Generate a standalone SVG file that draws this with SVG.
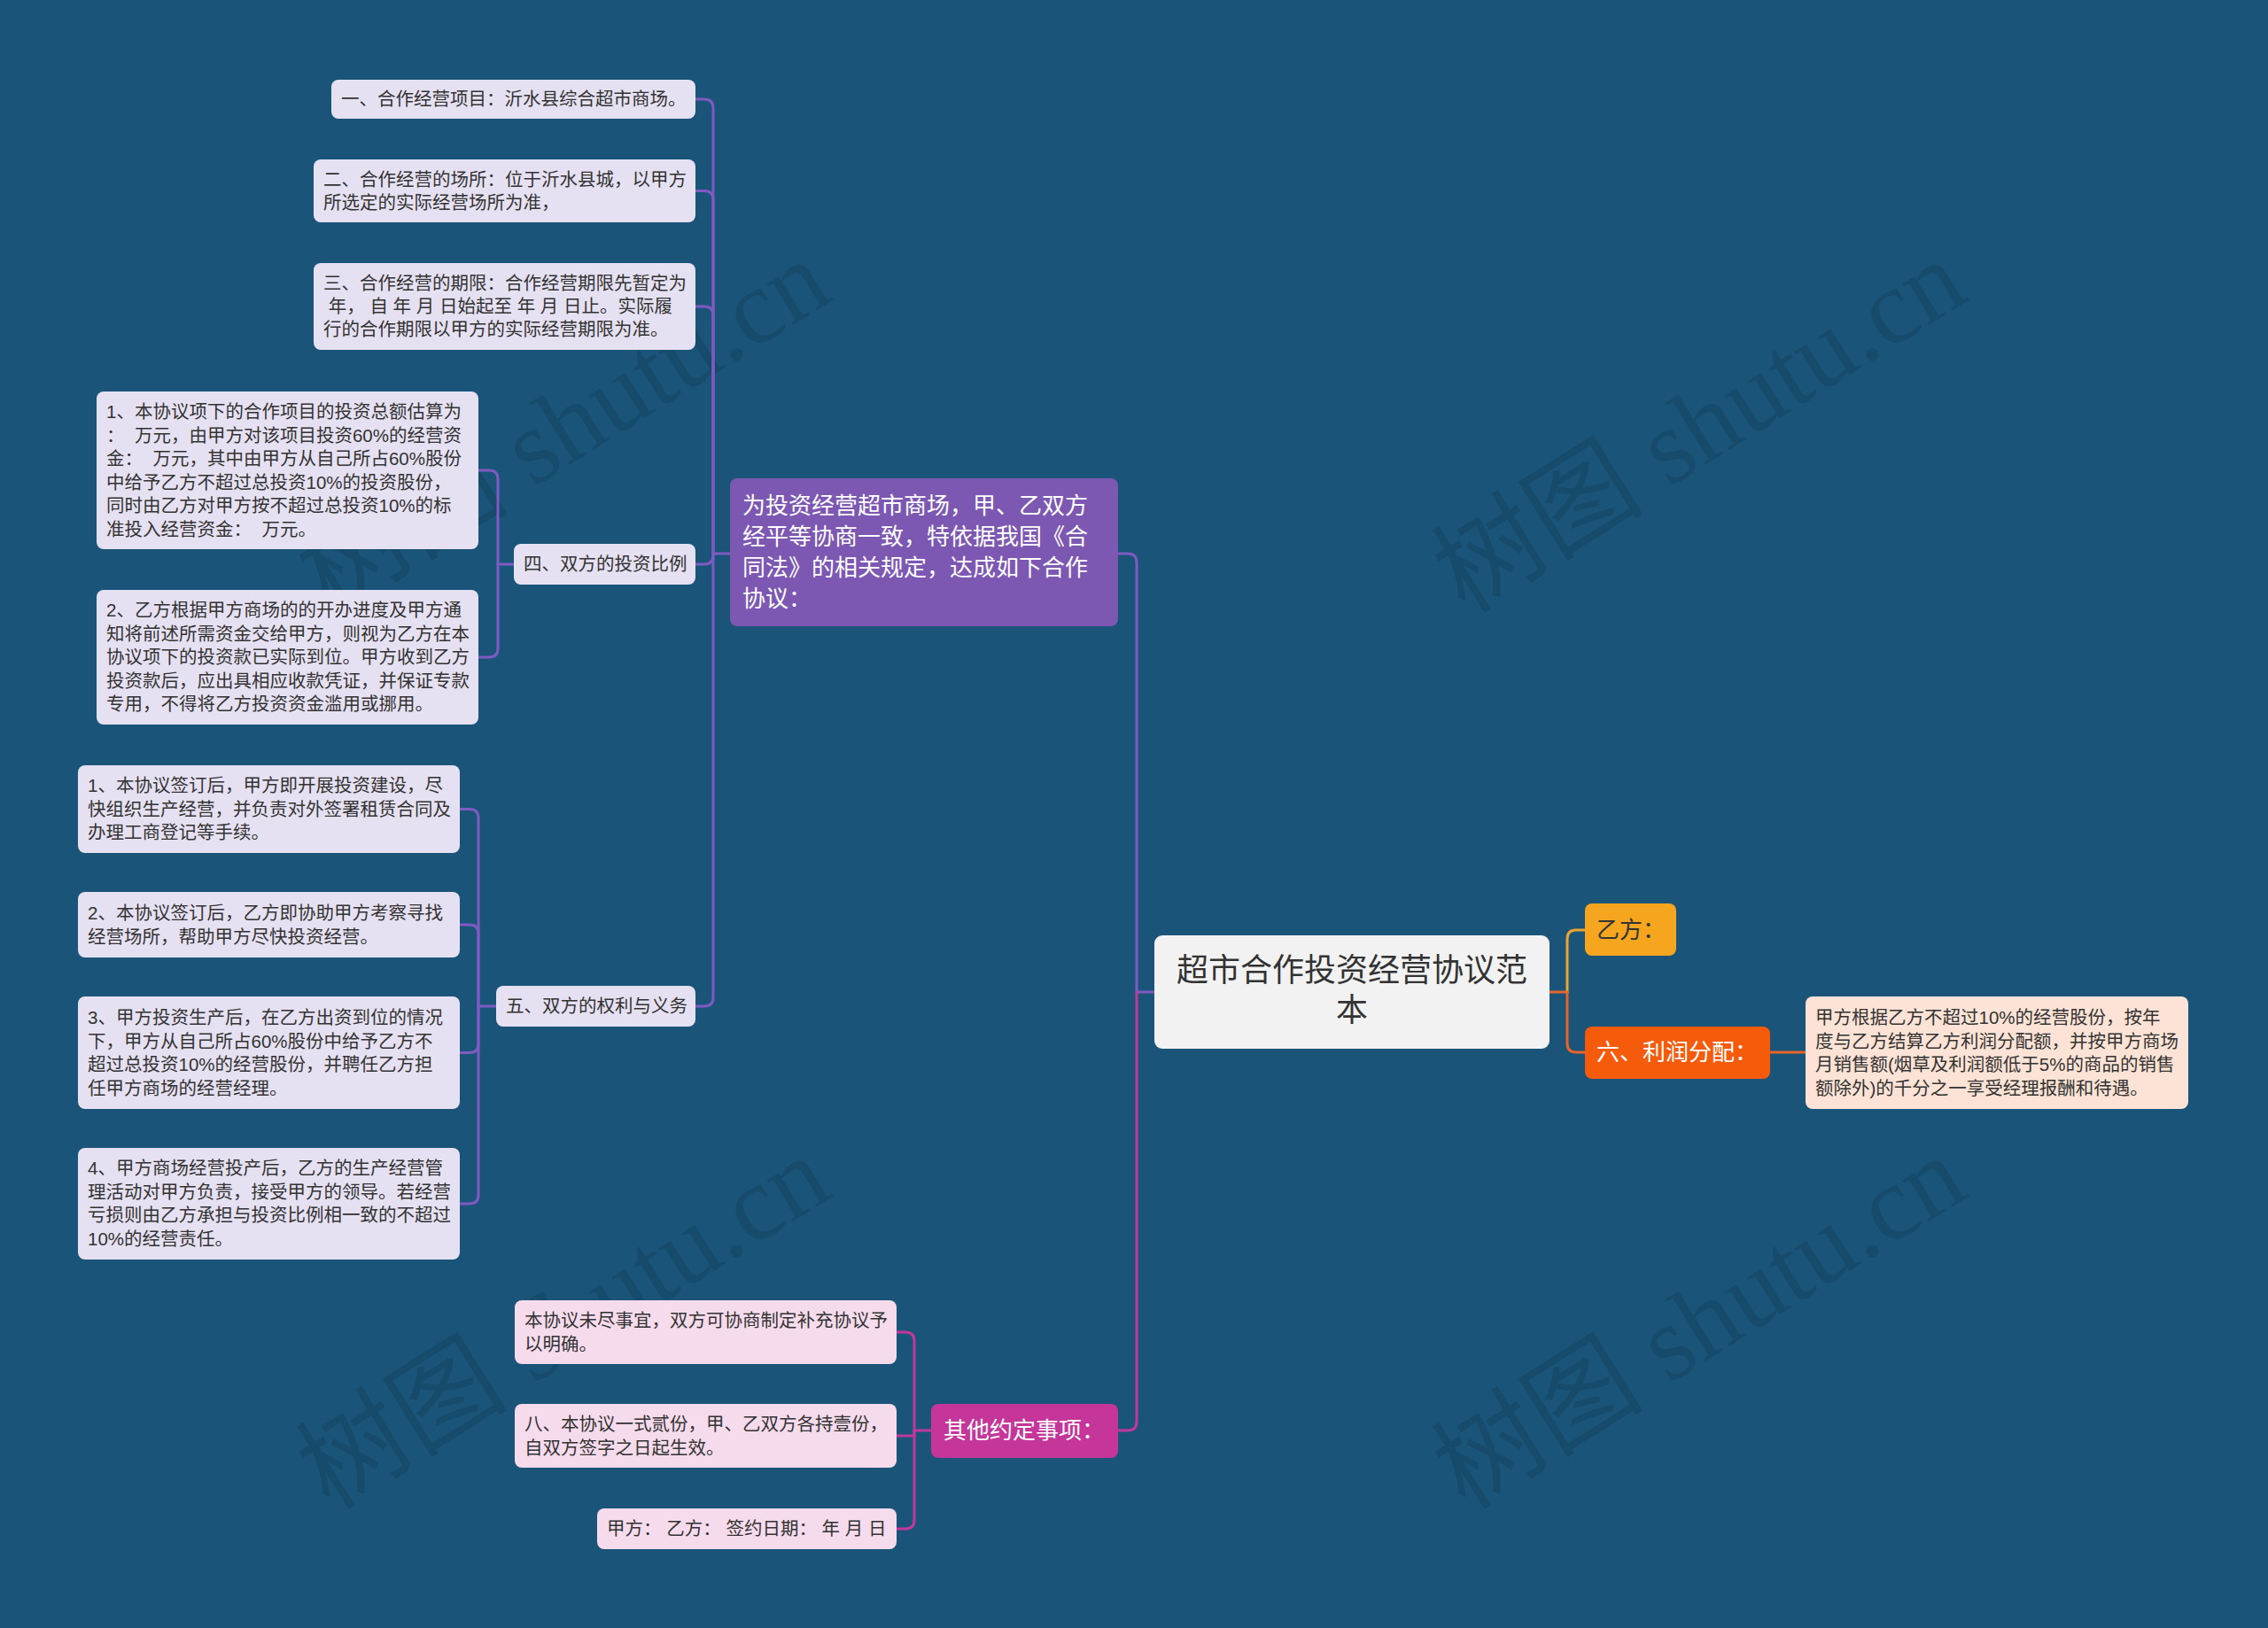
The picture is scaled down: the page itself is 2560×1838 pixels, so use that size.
<svg xmlns="http://www.w3.org/2000/svg" width="2560" height="1838" viewBox="0 0 2560 1838">
<style>
text{font-family:"Liberation Sans","Noto Sans CJK SC",sans-serif;}
.t{font-size:20.5px;fill:#333333;}
.big{font-size:26px;}
.wm{font-family:"Liberation Serif","Noto Sans CJK SC",serif;font-size:120px;fill:#000000;opacity:0.1;}
.lav{fill:#e6e1f2;}
.pink{fill:#f6dbec;}
.c{fill:none;stroke-width:3;stroke-linecap:round;}
.cp{stroke:#7e5ac2;}
.cm{stroke:#c2379a;}
</style>
<rect width="2560" height="1838" fill="#1a5479"/>
<g id="watermarks">
<text class="wm" transform="translate(372,694) rotate(-32)">树图 shutu.cn</text>
<text class="wm" transform="translate(1654,694) rotate(-32)">树图 shutu.cn</text>
<text class="wm" transform="translate(372,1706) rotate(-32)">树图 shutu.cn</text>
<text class="wm" transform="translate(1654,1706) rotate(-32)">树图 shutu.cn</text>
</g>
<g id="connectors">
<path class="c cp" d="M1303 1120 H1283 V635 Q1283 625 1273 625 H1262"/>
<path class="c cm" d="M1283 1120 V1605 Q1283 1615 1273 1615 H1262"/>
<path class="c" stroke="#e8652a" d="M1749 1120 H1769"/>
<path class="c" stroke="#e9a530" d="M1769 1120 V1060 Q1769 1050 1779 1050 H1789"/>
<path class="c" stroke="#e8652a" d="M1769 1120 V1178 Q1769 1188 1779 1188 H1789"/>
<path class="c" stroke="#e8652a" d="M1998 1188 H2038"/>
<path class="c cp" d="M824 625 H805"/>
<path class="c cp" d="M805 625 V122 Q805 112 795 112 H785"/>
<path class="c cp" d="M805 625 V225.5 Q805 215.5 795 215.5 H785"/>
<path class="c cp" d="M805 625 V356 Q805 346 795 346 H785"/>
<path class="c cp" d="M805 625 V627 Q805 637 795 637 H785"/>
<path class="c cp" d="M805 625 V1126 Q805 1136 795 1136 H785"/>
<path class="c cp" d="M580 637 H562"/>
<path class="c cp" d="M562 637 V541 Q562 531 552 531 H540"/>
<path class="c cp" d="M562 637 V732 Q562 742 552 742 H540"/>
<path class="c cp" d="M560 1136 H540"/>
<path class="c cp" d="M540 1136 V923.5 Q540 913.5 530 913.5 H519"/>
<path class="c cp" d="M540 1136 V1054 Q540 1044 530 1044 H519"/>
<path class="c cp" d="M540 1136 V1178.5 Q540 1188.5 530 1188.5 H519"/>
<path class="c cp" d="M540 1136 V1349 Q540 1359 530 1359 H519"/>
<path class="c cm" d="M1051 1615 H1032"/>
<path class="c cm" d="M1032 1615 V1514 Q1032 1504 1022 1504 H1012"/>
<path class="c cm" d="M1032 1615 V1621 H1012"/>
<path class="c cm" d="M1032 1615 V1716 Q1032 1726 1022 1726 H1012"/>
</g>
<g id="root">
<rect x="1303" y="1056" width="446" height="128" rx="9" fill="#f2f2f2"/>
<text font-size="36" fill="#333333" text-anchor="middle"><tspan x="1526" y="1108">超市合作投资经营协议范</tspan><tspan x="1526" y="1153">本</tspan></text>
</g>
<g id="n-intro">
<rect x="824" y="540" width="438" height="167" rx="8" fill="#7d58b3"/>
<text class="big" fill="#ffffff"><tspan x="838" y="580">为投资经营超市商场，甲、乙双方</tspan><tspan x="838" y="615">经平等协商一致，特依据我国《合</tspan><tspan x="838" y="650">同法》的相关规定，达成如下合作</tspan><tspan x="838" y="685">协议：</tspan></text>
</g>
<g id="n1">
<rect class="lav" x="374" y="90" width="411" height="44" rx="8"/>
<text class="t"><tspan x="385" y="119">一、合作经营项目：沂水县综合超市商场。</tspan></text>
</g>
<g id="n2">
<rect class="lav" x="354" y="180" width="431" height="71" rx="8"/>
<text class="t"><tspan x="365" y="209.5">二、合作经营的场所：位于沂水县城，以甲方</tspan><tspan x="365" y="235.5">所选定的实际经营场所为准，</tspan></text>
</g>
<g id="n3">
<rect class="lav" x="354" y="297" width="431" height="98" rx="8"/>
<text class="t" xml:space="preserve"><tspan x="365" y="327">三、合作经营的期限：合作经营期限先暂定为</tspan><tspan x="365" y="353"> 年， 自 年 月 日始起至 年 月 日止。实际履</tspan><tspan x="365" y="379">行的合作期限以甲方的实际经营期限为准。</tspan></text>
</g>
<g id="n4">
<rect class="lav" x="580" y="614" width="205" height="46" rx="8"/>
<text class="t"><tspan x="591" y="644">四、双方的投资比例</tspan></text>
</g>
<g id="n4-1">
<rect class="lav" x="109" y="442" width="431" height="178" rx="8"/>
<text class="t" xml:space="preserve"><tspan x="120" y="472">1、本协议项下的合作项目的投资总额估算为</tspan><tspan x="120" y="498.5">：  万元，由甲方对该项目投资60%的经营资</tspan><tspan x="120" y="525">金：  万元，其中由甲方从自己所占60%股份</tspan><tspan x="120" y="551.5">中给予乙方不超过总投资10%的投资股份，</tspan><tspan x="120" y="578">同时由乙方对甲方按不超过总投资10%的标</tspan><tspan x="120" y="604.5">准投入经营资金：  万元。</tspan></text>
</g>
<g id="n4-2">
<rect class="lav" x="109" y="666" width="431" height="152" rx="8"/>
<text class="t"><tspan x="120" y="696">2、乙方根据甲方商场的的开办进度及甲方通</tspan><tspan x="120" y="722.5">知将前述所需资金交给甲方，则视为乙方在本</tspan><tspan x="120" y="749">协议项下的投资款已实际到位。甲方收到乙方</tspan><tspan x="120" y="775.5">投资款后，应出具相应收款凭证，并保证专款</tspan><tspan x="120" y="802">专用，不得将乙方投资资金滥用或挪用。</tspan></text>
</g>
<g id="n5">
<rect class="lav" x="560" y="1113" width="225" height="46" rx="8"/>
<text class="t"><tspan x="571" y="1143">五、双方的权利与义务</tspan></text>
</g>
<g id="n5-1">
<rect class="lav" x="88" y="864" width="431" height="99" rx="8"/>
<text class="t"><tspan x="99" y="894">1、本协议签订后，甲方即开展投资建设，尽</tspan><tspan x="99" y="920.5">快组织生产经营，并负责对外签署租赁合同及</tspan><tspan x="99" y="947">办理工商登记等手续。</tspan></text>
</g>
<g id="n5-2">
<rect class="lav" x="88" y="1007" width="431" height="74" rx="8"/>
<text class="t"><tspan x="99" y="1038">2、本协议签订后，乙方即协助甲方考察寻找</tspan><tspan x="99" y="1064.5">经营场所，帮助甲方尽快投资经营。</tspan></text>
</g>
<g id="n5-3">
<rect class="lav" x="88" y="1125" width="431" height="127" rx="8"/>
<text class="t"><tspan x="99" y="1156">3、甲方投资生产后，在乙方出资到位的情况</tspan><tspan x="99" y="1182.5">下，甲方从自己所占60%股份中给予乙方不</tspan><tspan x="99" y="1209">超过总投资10%的经营股份，并聘任乙方担</tspan><tspan x="99" y="1235.5">任甲方商场的经营经理。</tspan></text>
</g>
<g id="n5-4">
<rect class="lav" x="88" y="1296" width="431" height="126" rx="8"/>
<text class="t"><tspan x="99" y="1326">4、甲方商场经营投产后，乙方的生产经营管</tspan><tspan x="99" y="1352.5">理活动对甲方负责，接受甲方的领导。若经营</tspan><tspan x="99" y="1379">亏损则由乙方承担与投资比例相一致的不超过</tspan><tspan x="99" y="1405.5">10%的经营责任。</tspan></text>
</g>
<g id="n-other">
<rect x="1051" y="1585" width="211" height="61" rx="8" fill="#c5359a"/>
<text class="big" fill="#ffffff"><tspan x="1065" y="1624">其他约定事项：</tspan></text>
</g>
<g id="n-other-1">
<rect class="pink" x="581" y="1468" width="431" height="72" rx="8"/>
<text class="t"><tspan x="592" y="1498">本协议未尽事宜，双方可协商制定补充协议予</tspan><tspan x="592" y="1524.5">以明确。</tspan></text>
</g>
<g id="n-other-2">
<rect class="pink" x="581" y="1585" width="431" height="72" rx="8"/>
<text class="t"><tspan x="592" y="1615">八、本协议一式贰份，甲、乙双方各持壹份，</tspan><tspan x="592" y="1641.5">自双方签字之日起生效。</tspan></text>
</g>
<g id="n-other-3">
<rect class="pink" x="674" y="1703" width="338" height="46" rx="8"/>
<text class="t" xml:space="preserve"><tspan x="685" y="1733">甲方： 乙方： 签约日期： 年 月 日</tspan></text>
</g>
<g id="n-yi">
<rect x="1789" y="1020" width="103" height="59" rx="8" fill="#f5a51e"/>
<text class="big" fill="#333333"><tspan x="1802" y="1059">乙方：</tspan></text>
</g>
<g id="n-6">
<rect x="1789" y="1159" width="209" height="59" rx="8" fill="#f55b0b"/>
<text class="big" fill="#ffffff"><tspan x="1802" y="1197">六、利润分配：</tspan></text>
</g>
<g id="n-6-1">
<rect x="2038" y="1125" width="432" height="127" rx="8" fill="#fde3d5"/>
<text class="t"><tspan x="2049" y="1156">甲方根据乙方不超过10%的经营股份，按年</tspan><tspan x="2049" y="1182.5">度与乙方结算乙方利润分配额，并按甲方商场</tspan><tspan x="2049" y="1209">月销售额(烟草及利润额低于5%的商品的销售</tspan><tspan x="2049" y="1235.5">额除外)的千分之一享受经理报酬和待遇。</tspan></text>
</g>
</svg>
